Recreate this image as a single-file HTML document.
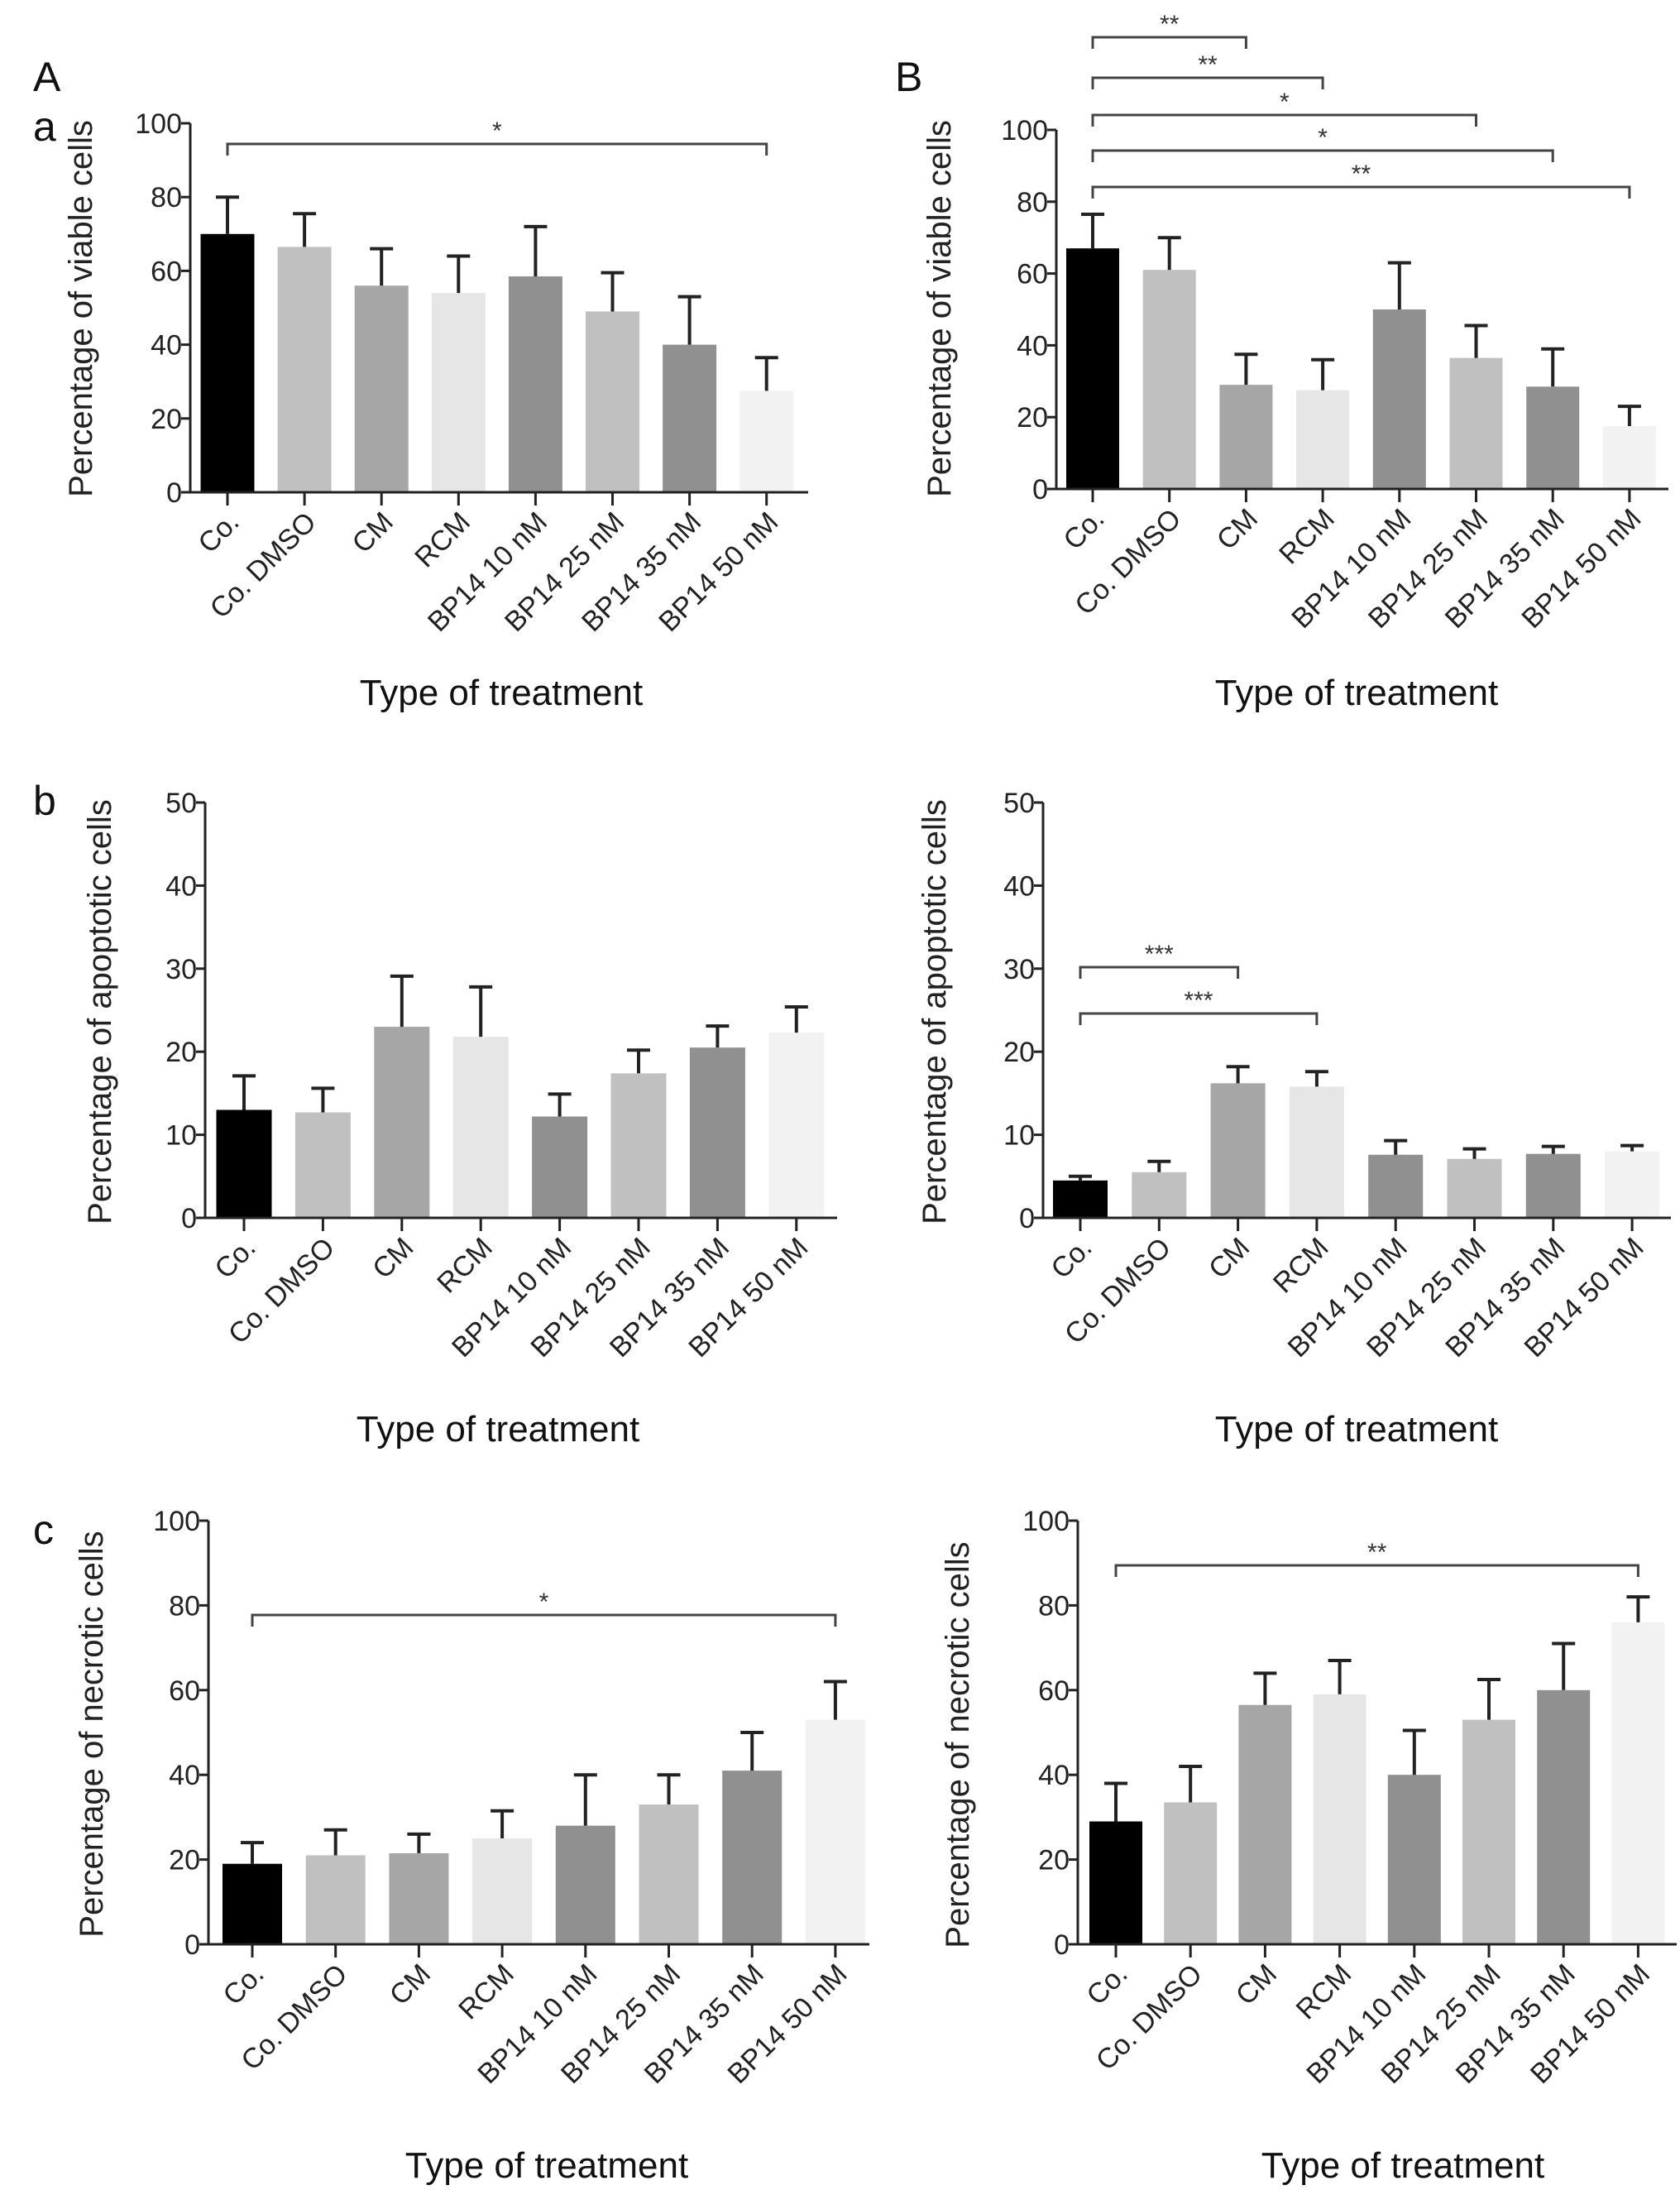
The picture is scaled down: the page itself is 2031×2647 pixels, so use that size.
<!DOCTYPE html>
<html><head><meta charset="utf-8"><style>
html,body{margin:0;padding:0;background:#fff;}
svg{display:block;font-family:"Liberation Sans",Arial,sans-serif;}
</style></head><body>
<svg id="fig" width="2031" height="2647" viewBox="0 0 2031 2647" xmlns="http://www.w3.org/2000/svg">
<rect width="2031" height="2647" fill="#fff"/>
<text x="40" y="110" font-size="50" fill="#111">A</text>
<text x="40" y="170" font-size="50" fill="#111">a</text>
<text x="1082" y="110" font-size="50" fill="#111">B</text>
<text x="40" y="985" font-size="50" fill="#111">b</text>
<text x="40" y="1866" font-size="50" fill="#111">c</text>
</svg>
<script>
const categories = ["Co.","Co. DMSO","CM","RCM","BP14 10 nM","BP14 25 nM","BP14 35 nM","BP14 50 nM"];
const viableA = [70,66.5,56,54,58.5,49,40,27.5];
const viableAErr = [80,75.5,66,64,72,59.5,53,36.5];
const viableB = [67,61,29,27.5,50,36.5,28.5,17.5];
const viableBErr = [76.5,70,37.5,36,63,45.5,39,23];
const apoptA = [13,12.7,23,21.8,12.2,17.4,20.5,22.3];
const apoptAErr = [17.1,15.6,29.1,27.8,14.9,20.2,23.1,25.4];
const apoptB = [4.5,5.5,16.2,15.8,7.6,7.1,7.7,8.0];
const apoptBErr = [5.0,6.8,18.2,17.6,9.3,8.3,8.6,8.7];
const necroA = [19,21,21.5,25,28,33,41,53];
const necroAErr = [24,27,26,31.5,40,40,50,62];
const necroB = [29,33.5,56.5,59,40,53,60,76];
const necroBErr = [38,42,64,67,50.5,62.5,71,82];
const ticks100 = [0,20,40,60,80,100];
const ticks50 = [0,10,20,30,40,50];

const colors = ["#000","#c0c0c0","#a6a6a6","#e6e6e6","#909090","#c0c0c0","#909090","#f2f2f2"];
const NS = "http://www.w3.org/2000/svg";
const svg = document.getElementById('fig');
function mk(tag, attrs, parent){
  const e = document.createElementNS(NS, tag);
  for (const k in attrs) e.setAttribute(k, attrs[k]);
  (parent||svg).appendChild(e);
  return e;
}

function chart(o){
  const g = mk('g', {});
  
  
  const y = v => o.y0 - (v / o.max) * (o.y0 - o.yTop);
  const x = i => o.x0 + i * o.step;
  o.vals.forEach((v,i)=>{
    const r = mk('rect', {x:x(i)-o.bw/2, y:y(v), width:o.bw, height:o.y0-y(v), fill:colors[i]}, g);
    
    
    const e = mk('path', {d:`M${x(i)},${y(v)} V${y(o.err[i])} M${x(i)-14},${y(o.err[i])} H${x(i)+14}`, stroke:'#222', 'stroke-width':4, fill:'none'}, g);
    
    
  });
  const ax = mk('path', {d:`M${o.ax},${o.yTop} V${o.y0} H${o.xEnd}`, stroke:'#222', 'stroke-width':3, fill:'none'}, g);
  
  
  o.ticks.forEach(t=>{
    mk('line', {x1:o.ax-11, x2:o.ax, y1:y(t), y2:y(t), stroke:'#222', 'stroke-width':3}, g);
    const tl = mk('text', {x:o.ax-10, y:y(t)+12, 'text-anchor':'end', 'font-size':34, fill:'#222'}, g);
    tl.textContent = t;
    
    
  });
  categories.forEach((c,i)=>{
    mk('line', {x1:x(i), x2:x(i), y1:o.y0, y2:o.y0+16, stroke:'#222', 'stroke-width':3}, g);
    const tx = x(i)+16, ty = o.y0+38;
    const tl = mk('text', {x:tx, y:ty, 'text-anchor':'end', 'font-size':34, fill:'#222', transform:`rotate(-45 ${tx} ${ty})`}, g);
    tl.textContent = c;
    
    
  });
  const yt = mk('text', {x:o.ytx, y:o.yty, 'text-anchor':'middle', 'font-size':40, fill:'#222', transform:`rotate(-90 ${o.ytx} ${o.yty})`}, g);
  yt.textContent = o.ytitle;
  
  
  const xt = mk('text', {x:o.xtx, y:o.xty, 'text-anchor':'middle', 'font-size':44, fill:'#111'}, g);
  xt.textContent = 'Type of treatment';
  
  
  (o.brackets||[]).forEach(b=>{
    const x1 = x(b[0]), x2 = x(b[1]);
    const p = mk('path', {d:`M${x1},${b[2]+14} V${b[2]} H${x2} V${b[2]+14}`, stroke:'#444', 'stroke-width':3, fill:'none'}, g);
    
    
    const s = mk('text', {x:(x1+x2)/2, y:b[2]-6, 'text-anchor':'middle', 'font-size':30, fill:'#333'}, g);
    s.textContent = b[3];
    
    
  });
}

chart({name:'chart-A-viable', vals:viableA, err:viableAErr, max:100, ticks:ticks100, ax:230, y0:595, yTop:149, xEnd:977, x0:275, step:93.1, bw:65,
  ytitle:'Percentage of viable cells', ytx:111, yty:373, xtx:606, xty:852, brackets:[[0,7,174,'*']]});
chart({name:'chart-B-viable', vals:viableB, err:viableBErr, max:100, ticks:ticks100, ax:1277, y0:591, yTop:157, xEnd:2017, x0:1321, step:92.7, bw:64,
  ytitle:'Percentage of viable cells', ytx:1149, yty:373, xtx:1640, xty:852,
  brackets:[[0,2,45,'**'],[0,3,94,'**'],[0,5,139,'*'],[0,6,182,'*'],[0,7,226,'**']]});
chart({name:'chart-A-apoptotic', vals:apoptA, err:apoptAErr, max:50, ticks:ticks50, ax:248, y0:1472, yTop:970, xEnd:1012, x0:295, step:95.4, bw:67,
  ytitle:'Percentage of apoptotic cells', ytx:134, yty:1223, xtx:602, xty:1742});
chart({name:'chart-B-apoptotic', vals:apoptB, err:apoptBErr, max:50, ticks:ticks50, ax:1261, y0:1472, yTop:970, xEnd:2020, x0:1306, step:95.3, bw:66,
  ytitle:'Percentage of apoptotic cells', ytx:1143, yty:1223, xtx:1640, xty:1742,
  brackets:[[0,2,1169,'***'],[0,3,1225,'***']]});
chart({name:'chart-A-necrotic', vals:necroA, err:necroAErr, max:100, ticks:ticks100, ax:252, y0:2350, yTop:1838, xEnd:1051, x0:305, step:100.7, bw:72,
  ytitle:'Percentage of necrotic cells', ytx:124, yty:2096, xtx:661, xty:2632, brackets:[[0,7,1952,'*']]});
chart({name:'chart-B-necrotic', vals:necroB, err:necroBErr, max:100, ticks:ticks100, ax:1303, y0:2350, yTop:1838, xEnd:2027, x0:1349, step:90.2, bw:64,
  ytitle:'Percentage of necrotic cells', ytx:1171, yty:2109, xtx:1696, xty:2632, brackets:[[0,7,1892,'**']]});
</script>
</body></html>
